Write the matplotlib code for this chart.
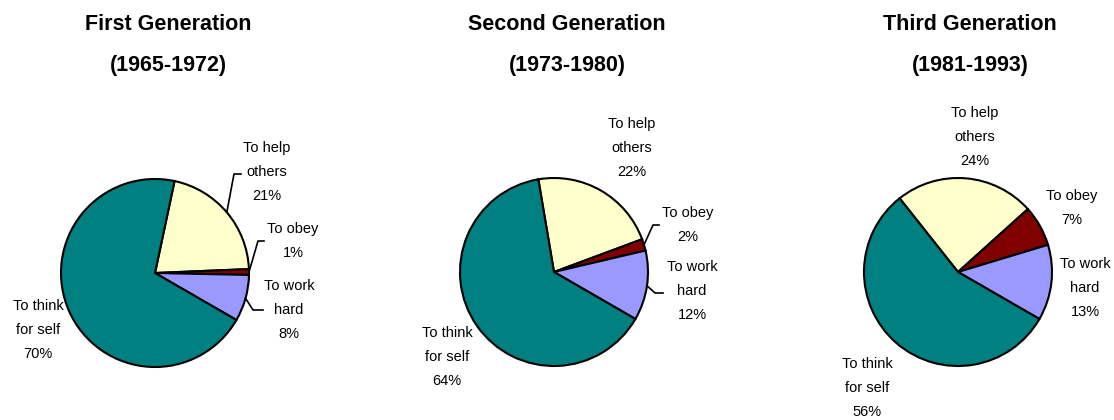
import numpy as np
import matplotlib
matplotlib.use('Agg')
import matplotlib.pyplot as plt

plt.rcParams['font.family'] = ['Liberation Sans', 'DejaVu Sans']

## data
categories = ['To help\nothers', 'To obey', 'To work\nhard', 'To think\nfor self']
first_gen = [21, 1, 8, 70]
second_gen = [22, 2, 12, 64]
third_gen = [24, 7, 13, 56]
titles = ['First Generation', 'Second Generation', 'Third Generation']
periods = ['(1965-1972)', '(1973-1980)', '(1981-1993)']
colors = ['#FFFFCC', '#800000', '#9999FF', '#008080']

W, H = 1114, 420
fig = plt.figure(figsize=(W / 100, H / 100), dpi=100)
ax = fig.add_axes([0, 0, 1, 1])

## layout in pixels (image coords, y down)
centers = [(155, 273), (554, 272), (958, 272)]
radius = 94
title_x = [168, 567, 970]
# label block centres for each pie, in category order
label_pos = [
    [(267, 172), (293, 241), (289, 310), (38, 330)],
    [(632, 148), (688, 225), (692, 291), (447, 357)],
    [(975, 137), (1072, 208), (1085, 288), (867, 388)],
]
# leader line elbows: (elbow point, end point) or None
leaders = [
    [((234, 174), (241, 174)), ((258, 241), (264, 241)), ((253, 310), (263, 310)), None],
    [None, ((653, 225), (659, 225)), ((655, 293), (663, 293)), None],
    [None, None, None, None],
]

def fy(y):
    return H - y

for i, vals in enumerate([first_gen, second_gen, third_gen]):
    cx, cy = centers[i]
    # last slice (to think for self) always ends at -30 deg, going clockwise
    start = -30 + sum(vals[:3]) * 3.6
    wedges, _ = ax.pie(vals, colors=colors, startangle=start, counterclock=False,
                       center=(cx, fy(cy)), radius=radius,
                       wedgeprops=dict(edgecolor='black', linewidth=1.5))
    for j, w in enumerate(wedges):
        lx, ly = label_pos[i][j]
        ax.text(lx, fy(ly), f"{categories[j]}\n{vals[j]}%", ha='center', va='center',
                fontsize=10.5, linespacing=1.9)
        if leaders[i][j] is not None:
            mid = np.deg2rad((w.theta1 + w.theta2) / 2)
            px = cx + radius * np.cos(mid)
            py = fy(cy) + radius * np.sin(mid)
            (ex, ey), (tx, ty) = leaders[i][j]
            ax.plot([px, ex, tx], [py, fy(ey), fy(ty)], color='black', lw=1.2)
    ax.text(title_x[i], fy(25), titles[i], ha='center', va='center',
            fontsize=15.5, fontweight='bold')
    ax.text(title_x[i], fy(65), periods[i], ha='center', va='center',
            fontsize=15.5, fontweight='bold')

ax.set_xlim(0, W)
ax.set_ylim(0, H)
ax.set_aspect('equal')
ax.axis('off')

fig.savefig('out.png', dpi=100)
